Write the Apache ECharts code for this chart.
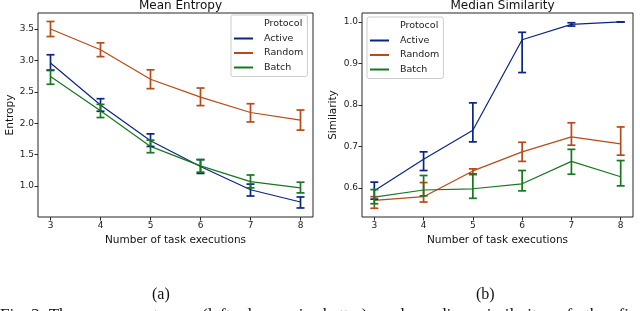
<!DOCTYPE html>
<html><head><meta charset="utf-8">
<script src="https://cdn.jsdelivr.net/npm/echarts@6/dist/echarts.min.js"></script>
<style>html,body{margin:0;padding:0;background:#fff}#c{width:640px;height:311px}</style>
</head><body><div id="c"></div>
<script>
const xs = [3, 4, 5, 6, 7, 8];
const xTicks = [3, 4, 5, 6, 7, 8];
const entTicks = [1.0, 1.5, 2.0, 2.5, 3.0, 3.5];
const simTicks = [0.6, 0.7, 0.8, 0.9, 1.0];
const protocols = ['Active', 'Random', 'Batch'];

// Mean Entropy
const entActive = [2.96, 2.29, 1.72, 1.31, 0.94, 0.745];
const entActiveLo = [2.84, 2.19, 1.63, 1.20, 0.84, 0.65];
const entActiveHi = [3.09, 2.39, 1.83, 1.42, 1.03, 0.825];
const entRandom = [3.50, 3.17, 2.70, 2.415, 2.17, 2.05];
const entRandomLo = [3.38, 3.06, 2.55, 2.28, 2.02, 1.89];
const entRandomHi = [3.62, 3.28, 2.85, 2.56, 2.31, 2.21];
const entBatch = [2.745, 2.197, 1.63, 1.32, 1.07, 0.97];
const entBatchLo = [2.62, 2.09, 1.53, 1.22, 0.97, 0.89];
const entBatchHi = [2.85, 2.30, 1.73, 1.42, 1.175, 1.06];

// Median Similarity
const simActive = [0.593, 0.669, 0.739, 0.957, 0.994, 1.0];
const simActiveLo = [0.573, 0.642, 0.711, 0.878, 0.990, 1.0];
const simActiveHi = [0.614, 0.687, 0.805, 0.975, 0.998, 1.0];
const simRandom = [0.570, 0.579, 0.641, 0.687, 0.723, 0.706];
const simRandomLo = [0.551, 0.566, 0.632, 0.664, 0.703, 0.679];
const simRandomHi = [0.579, 0.613, 0.646, 0.710, 0.757, 0.747];
const simBatch = [0.578, 0.595, 0.598, 0.610, 0.664, 0.627];
const simBatchLo = [0.562, 0.581, 0.575, 0.593, 0.633, 0.605];
const simBatchHi = [0.596, 0.630, 0.634, 0.642, 0.693, 0.666];

const colors = {Active: '#0b2585', Random: '#b84a18', Batch: '#16781f'};
const FONT = 'DejaVu Sans';

function lineSeries(name, vals, gi) {
  return {type: 'line', name, xAxisIndex: gi, yAxisIndex: gi, data: xs.map((x, i) => [x, vals[i]]),
    symbol: 'none', lineStyle: {color: colors[name], width: 1.2}, itemStyle: {color: colors[name]}, z: 3, animation: false};
}
function errSeries(name, lo, hi, gi) {
  return {type: 'custom', name, xAxisIndex: gi, yAxisIndex: gi, data: xs.map((x, i) => [x, lo[i], hi[i]]),
    z: 4, animation: false, silent: true,
    renderItem: function (params, api) {
      const a = api.coord([api.value(0), api.value(1)]);
      const b = api.coord([api.value(0), api.value(2)]);
      const w = 4;
      const st = {stroke: colors[name], lineWidth: 1.7};
      return {type: 'group', children: [
        {type: 'line', shape: {x1: a[0], y1: a[1], x2: b[0], y2: b[1]}, style: st},
        {type: 'line', shape: {x1: a[0] - w, y1: a[1], x2: a[0] + w, y2: a[1]}, style: st},
        {type: 'line', shape: {x1: b[0] - w, y1: b[1], x2: b[0] + w, y2: b[1]}, style: st}
      ]};
    }};
}

const grids = [
  {left: 38, top: 13, width: 275, height: 204, show: true, borderColor: '#262626', borderWidth: 1, backgroundColor: 'transparent'},
  {left: 362, top: 13, width: 271, height: 204, show: true, borderColor: '#262626', borderWidth: 1, backgroundColor: 'transparent'}
];
function xAxis(gi) {
  return {type: 'value', gridIndex: gi, min: 2.75, max: 8.25,
    name: 'Number of task executions', nameLocation: 'middle', nameGap: 17,
    nameTextStyle: {fontFamily: FONT, fontSize: 10.5, color: '#111'},
    axisLine: {show: false}, splitLine: {show: false},
    axisTick: {show: true, length: 3.5, inside: false, customValues: xTicks, lineStyle: {color: '#262626'}},
    axisLabel: {customValues: xTicks, fontFamily: FONT, fontSize: 9, color: '#222', margin: 4, formatter: v => String(v)}};
}
function yAxis(gi, name, min, max, ticks, gap) {
  return {type: 'value', gridIndex: gi, min, max, name, nameLocation: 'middle', nameGap: gap,
    nameTextStyle: {fontFamily: FONT, fontSize: 10.5, color: '#111'},
    axisLine: {show: false}, splitLine: {show: false},
    axisTick: {show: true, length: 3.5, customValues: ticks, lineStyle: {color: '#262626'}},
    axisLabel: {customValues: ticks, fontFamily: FONT, fontSize: 9, color: '#222', margin: 4, formatter: v => v.toFixed(1)}};
}
function legend(left, top) {
  return {orient: 'vertical', left, top, itemWidth: 19, itemHeight: 2, itemGap: 4.5, icon: 'rect',
    padding: [4, 4, 4, 3], backgroundColor: 'rgba(255,255,255,0.85)', borderColor: '#cccccc', borderWidth: 1, borderRadius: 2,
    selectedMode: false,
    textStyle: {fontFamily: FONT, fontSize: 9.5, color: '#222', lineHeight: 10, padding: [0, 0, 0, 6]},
    data: [{name: 'Protocol', itemStyle: {opacity: 0}}].concat(protocols.map(p => ({name: p, itemStyle: {color: colors[p]}})))};
}

const series = [];
[[entActive, entActiveLo, entActiveHi, 'Active'], [entRandom, entRandomLo, entRandomHi, 'Random'], [entBatch, entBatchLo, entBatchHi, 'Batch']]
  .forEach(([v, lo, hi, n]) => { series.push(lineSeries(n, v, 0)); series.push(errSeries(n, lo, hi, 0)); });
[[simActive, simActiveLo, simActiveHi, 'Active'], [simRandom, simRandomLo, simRandomHi, 'Random'], [simBatch, simBatchLo, simBatchHi, 'Batch']]
  .forEach(([v, lo, hi, n]) => { series.push(lineSeries(n, v, 1)); series.push(errSeries(n, lo, hi, 1)); });
series.push({type: 'line', name: 'Protocol', xAxisIndex: 0, yAxisIndex: 0, data: [], symbol: 'none'});

const chart = echarts.init(document.getElementById('c'), null, {renderer: 'canvas'});
chart.setOption({
  animation: false,
  backgroundColor: '#fff',
  title: [
    {text: 'Mean Entropy', left: 175.5, top: -5, textAlign: 'center', textStyle: {fontFamily: FONT, fontSize: 12, fontWeight: 'normal', color: '#111'}},
    {text: 'Median Similarity', left: 497.5, top: -5, textAlign: 'center', textStyle: {fontFamily: FONT, fontSize: 12, fontWeight: 'normal', color: '#111'}}
  ],
  grid: grids,
  xAxis: [xAxis(0), xAxis(1)],
  yAxis: [yAxis(0, 'Entropy', 0.506, 3.755, entTicks, 21), yAxis(1, 'Similarity', 0.53, 1.0215, simTicks, 23)],
  legend: [legend(231, 15), legend(367, 17)],
  series,
  graphic: [
    {type: 'text', left: 152, top: 287, style: {text: '(a)', font: '16px "Liberation Serif"', fill: '#111'}},
    {type: 'text', left: 476, top: 287, style: {text: '(b)', font: '16px "Liberation Serif"', fill: '#111'}},
    {type: 'text', x: 0, y: 307.5, style: {text: 'Fig. 2: The   mean   entropy   (left,   lower   is   better)   and   median   similarity   of   the   final', font: '17px "Liberation Serif"', fill: '#111', verticalAlign: 'top'}}
  ]
});
</script></body></html>
